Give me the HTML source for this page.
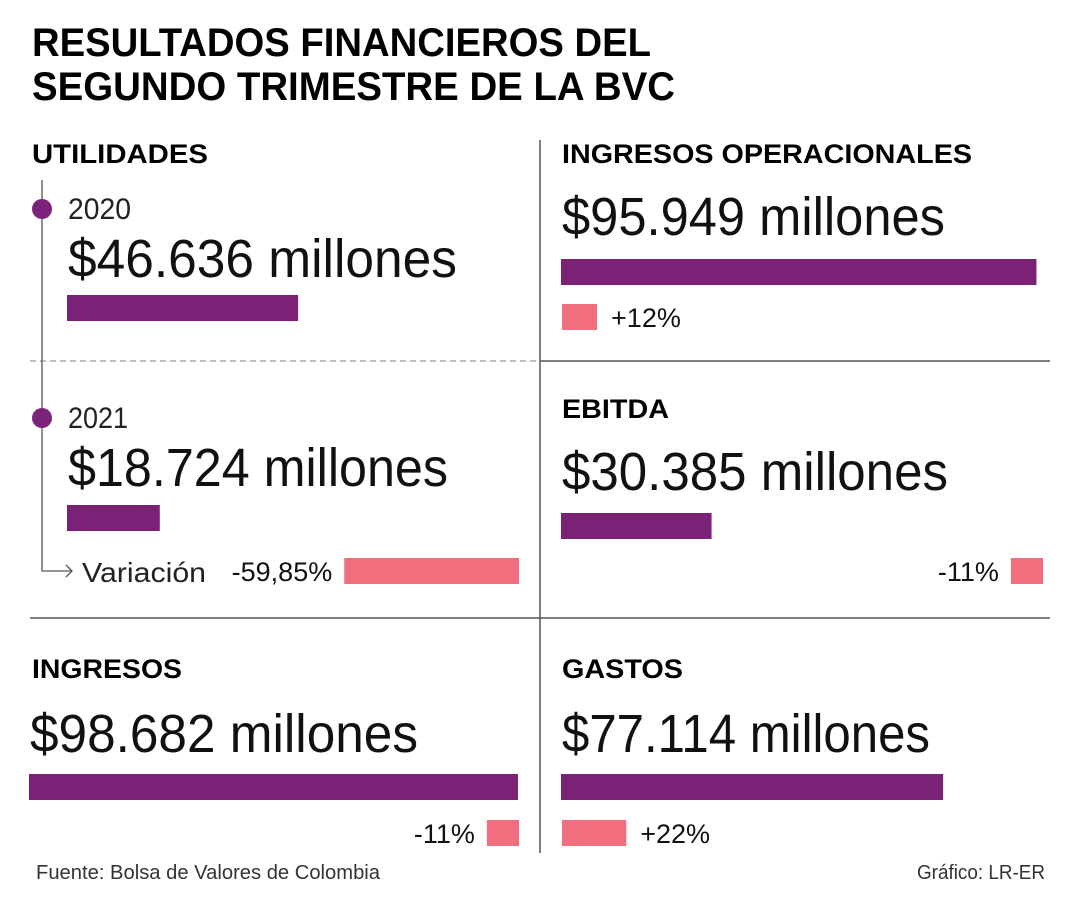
<!DOCTYPE html>
<html><head><meta charset="utf-8"><style>
html,body{margin:0;padding:0;background:#fff}
svg{display:block;font-family:"Liberation Sans",sans-serif}
</style></head><body>
<svg id="chart" width="1080" height="900" viewBox="0 0 1080 900">
<text x="32" y="56" font-size="40" font-weight="bold" textLength="619" lengthAdjust="spacingAndGlyphs">RESULTADOS FINANCIEROS DEL</text>
<text x="32" y="100" font-size="40" font-weight="bold" textLength="643" lengthAdjust="spacingAndGlyphs">SEGUNDO TRIMESTRE DE LA BVC</text>
<line x1="540" y1="140" x2="540" y2="853" stroke="#555" stroke-width="1.5"/>
<line x1="540" y1="361" x2="1050" y2="361" stroke="#555" stroke-width="1.5"/>
<line x1="30" y1="361" x2="540" y2="361" stroke="#999" stroke-width="1.2" stroke-dasharray="6,4"/>
<line x1="30" y1="618" x2="1050" y2="618" stroke="#555" stroke-width="1.5"/>
<path d="M42 180 V571 H72 M66 565 L72 571 L66 577" fill="none" stroke="#555" stroke-width="1.3"/>
<circle cx="42" cy="209" r="10" fill="#7b2378"/>
<circle cx="42" cy="418" r="10" fill="#7b2378"/>
<text x="32" y="163" font-size="27" font-weight="bold" textLength="176" lengthAdjust="spacingAndGlyphs">UTILIDADES</text>
<text x="68" y="219" font-size="30" fill="#222" textLength="63" lengthAdjust="spacingAndGlyphs">2020</text>
<text x="68" y="428" font-size="30" fill="#222" textLength="60" lengthAdjust="spacingAndGlyphs">2021</text>
<text x="82" y="582" font-size="28" fill="#222" textLength="124" lengthAdjust="spacingAndGlyphs">Variación</text>
<text x="562" y="163" font-size="27" font-weight="bold" textLength="410" lengthAdjust="spacingAndGlyphs">INGRESOS OPERACIONALES</text>
<text x="562" y="418" font-size="27" font-weight="bold" textLength="107" lengthAdjust="spacingAndGlyphs">EBITDA</text>
<text x="32" y="678" font-size="27" font-weight="bold" textLength="150" lengthAdjust="spacingAndGlyphs">INGRESOS</text>
<text x="562" y="678" font-size="27" font-weight="bold" textLength="121" lengthAdjust="spacingAndGlyphs">GASTOS</text>
<text x="36" y="879" font-size="20" fill="#333" textLength="344" lengthAdjust="spacingAndGlyphs">Fuente: Bolsa de Valores de Colombia</text>
<text x="1045" y="879" font-size="20" fill="#333" text-anchor="end" textLength="128" lengthAdjust="spacingAndGlyphs">Gráfico: LR-ER</text>
<g id="marks"></g>
</svg>
<script>
const metricLabels = ["$46.636 millones","$18.724 millones","$95.949 millones","$30.385 millones","$98.682 millones","$77.114 millones"];
const metricValues = [46636, 18724, 95949, 30385, 98682, 77114];
const changeValues = [-59.85, 12, -11, -11, 22];
const changeLabels = ["-59,85%","+12%","-11%","-11%","+22%"];
// layout (not data)
const valLayout = [
 {x:68,ty:277,by:295,tw:389},{x:68,ty:486,by:505,tw:380},
 {x:562,ty:235,by:259,tw:383},{x:562,ty:490,by:513,tw:386},
 {x:30,ty:752,by:774,tw:388},{x:562,ty:752,by:774,tw:368}
];
const chgLayout = [
 {anchor:"right",x:519,y:558},{anchor:"left",x:562,y:304},
 {anchor:"right",x:1043,y:558},{anchor:"right",x:519,y:820},{anchor:"left",x:562,y:820}
];
const ns="http://www.w3.org/2000/svg";
const g=document.getElementById('marks');
const xVal=v=>v*489/98682;
const xPct=p=>Math.abs(p)*2.92;
function mk(t,a){const e=document.createElementNS(ns,t);for(const k in a)e.setAttribute(k,a[k]);g.appendChild(e);return e;}
metricValues.forEach((v,i)=>{
 const L=valLayout[i];
 const t=mk('text',{x:L.x,y:L.ty,'font-size':54,fill:'#111',textLength:L.tw,lengthAdjust:'spacingAndGlyphs'});
 t.textContent=metricLabels[i];
 
 
 const r=mk('rect',{x:L.x-1,y:L.by,width:xVal(v),height:26,fill:'#7b2276'});
 
 
});
changeValues.forEach((p,i)=>{
 const L=chgLayout[i], w=xPct(p);
 const rx = L.anchor==="right" ? L.x-w : L.x;
 const r=mk('rect',{x:rx,y:L.y,width:w,height:26,fill:'#f06e7e'});
 
 
 const t = L.anchor==="right"
  ? mk('text',{x:rx-12,y:L.y+23,'font-size':27,fill:'#111','text-anchor':'end'})
  : mk('text',{x:rx+w+14,y:L.y+23,'font-size':27,fill:'#111'});
 t.textContent=changeLabels[i];
 
 
});
</script>
</body></html>
